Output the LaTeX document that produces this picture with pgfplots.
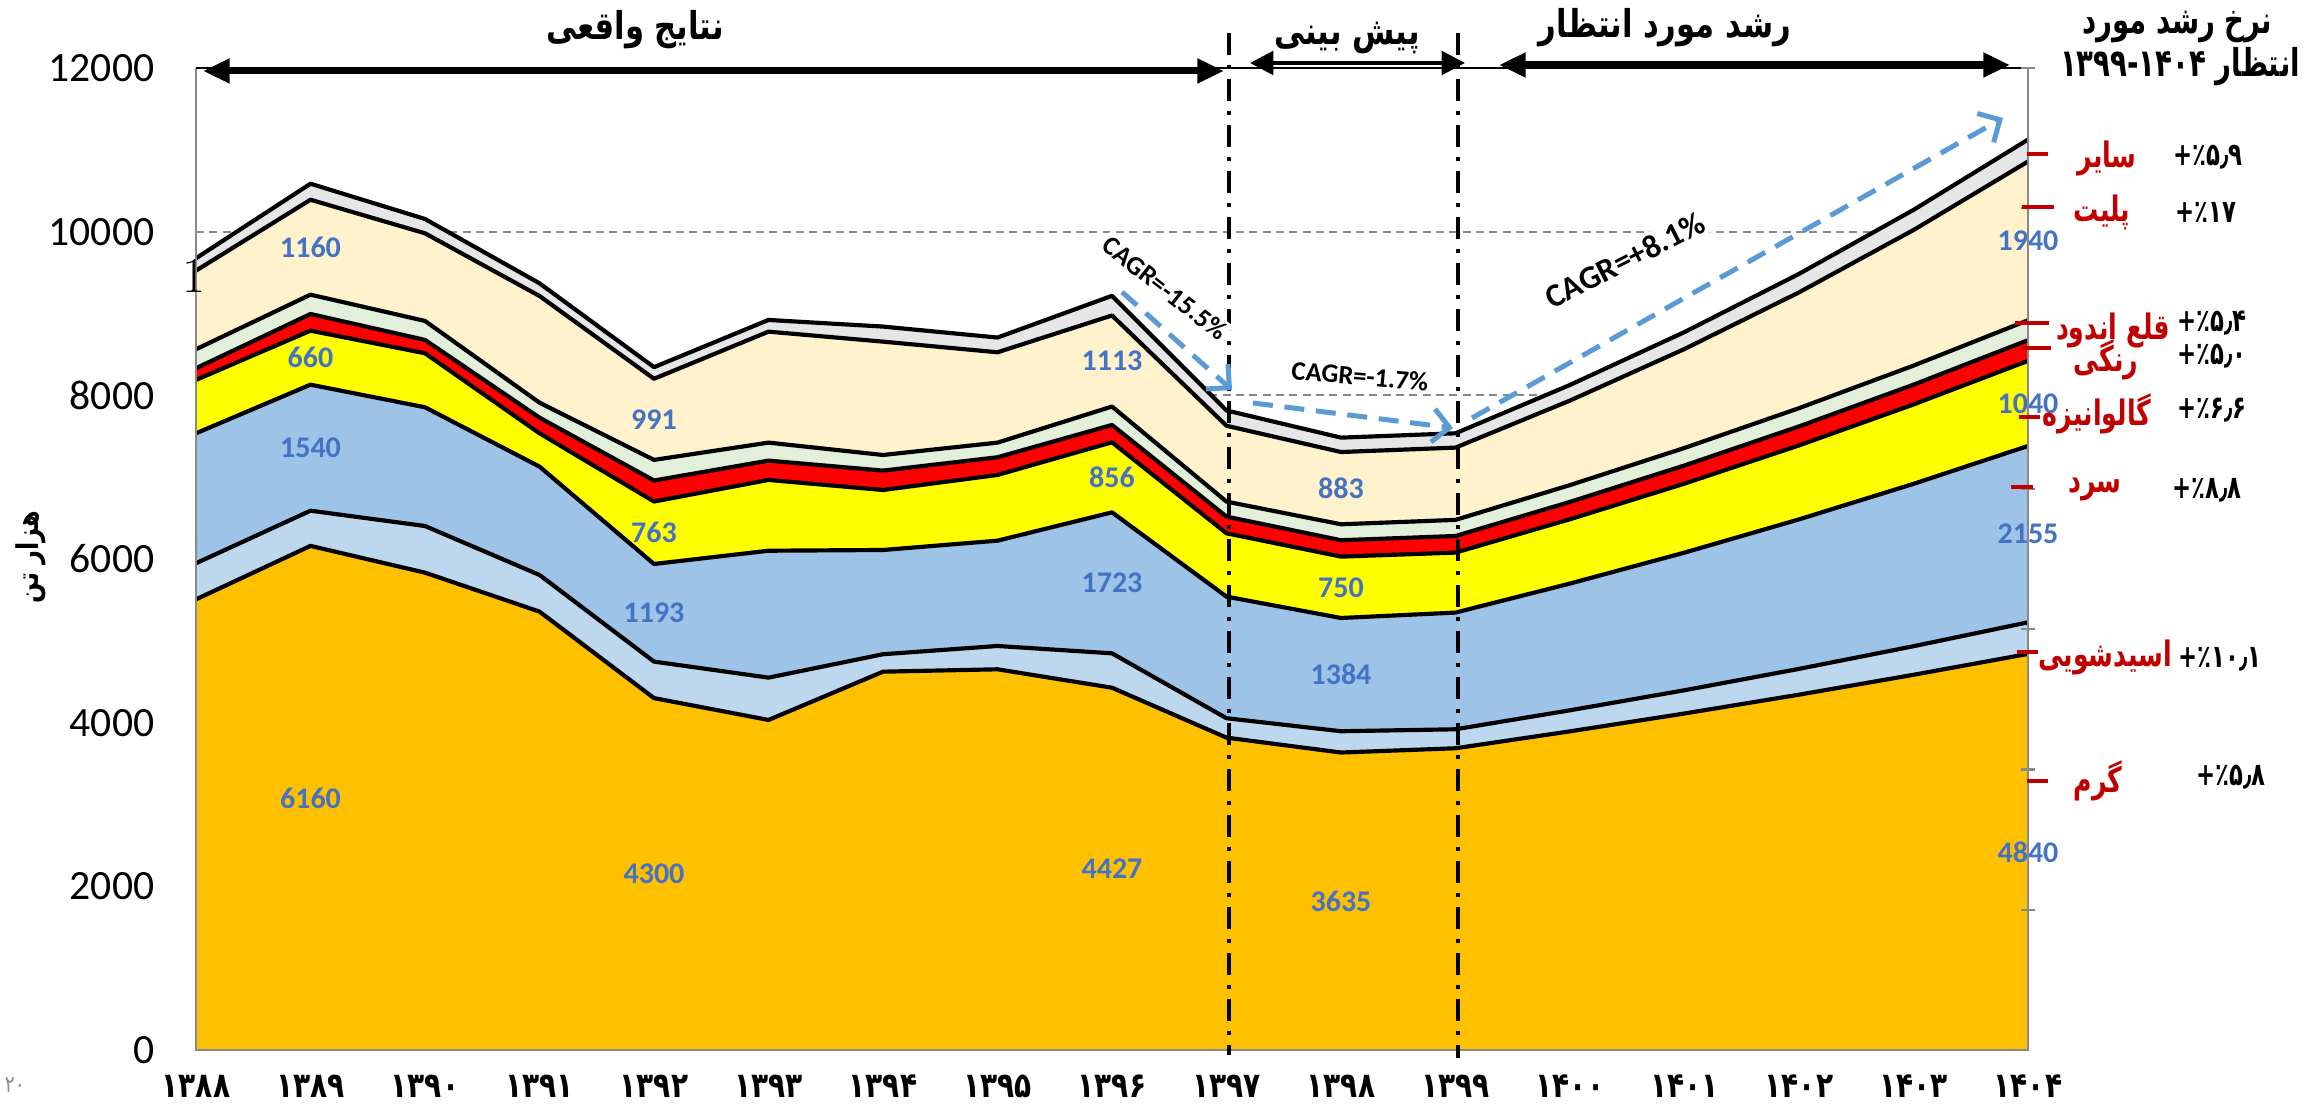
\documentclass[border=0pt]{standalone}
\usepackage{fontspec}
\usepackage{pgfplots}
\pgfplotsset{compat=1.18}
\usepackage{pgfplotstable}
\usetikzlibrary{arrows.meta}
\newfontfamily\calfont{Carlito}
\newfontfamily\fa[Script=Arabic,FakeStretch=0.8]{DejaVu Sans}
\newfontfamily\fan[Script=Arabic,FakeStretch=0.72]{DejaVu Sans}
\TeXXeTstate=1
\definecolor{cGarm}{HTML}{FFC000}
\definecolor{cAcid}{HTML}{BDD7EE}
\definecolor{cSard}{HTML}{9DC3E6}
\definecolor{cGalv}{HTML}{FFFF00}
\definecolor{cRangi}{HTML}{FF0000}
\definecolor{cQala}{HTML}{E2EFDA}
\definecolor{cPelit}{HTML}{FFF2CC}
\definecolor{cSayer}{HTML}{E7E6E6}
\definecolor{lblue}{HTML}{4472C4}
\definecolor{darrow}{HTML}{5B9BD5}
\definecolor{dred}{HTML}{C00000}
\definecolor{axgray}{HTML}{898989}
\tikzset{dlab/.style={font=\calfont\bfseries\fontsize{9}{10}\selectfont, text=lblue},
  ttl/.style={font=\fa\bfseries\fontsize{11.5}{13}\selectfont},
  rlab/.style={font=\fan\bfseries\fontsize{10.5}{12}\selectfont, text=dred},
  glab/.style={font=\fan\bfseries\fontsize{9.5}{11}\selectfont},
  rtk/.style={dred, line width=1pt}}
\pgfplotsset{bline/.style={black, line width=1.25pt, line join=round, mark=none}}

\pgfplotstableread{
x garm acid sard galv rangi qala pelit sayer
0  5507 441 1588 652 143 232 961 151
1  6160 430 1540 660 204 236 1160 196
2  5833 570 1451 660 163 232 1071 175
3  5357 448 1324 407 191 183 1304 155
4  4300 446 1193 763 257 252 991 142
5  4033 517 1551 865 236 220 1356 143
6  4623 213 1274 733 237 191 1385 184
7  4652 285 1287 803 216 179 1104 180
8  4427 420 1723 856 212 225 1113 240
9  3817 237 1486 774 204 183 927 187
10 3635 260 1384 750 200 195 883 176
11 3687 232 1426 733 203 197 883 175
12 3894 257 1549 786 212 205 1033 191
13 4112 284 1682 843 222 214 1209 207
14 4342 315 1827 904 232 223 1415 226
15 4585 349 1984 970 242 233 1657 246
16 4840 386 2155 1040 253 243 1940 268
}\datatab

\begin{document}
\begin{tikzpicture}
\begin{axis}[
  at={(58.8pt,19.2pt)}, anchor=south west,
  scale only axis, width=549.6pt, height=294.6pt,
  xmin=0, xmax=16, ymin=0, ymax=12000,
  stack plots=y,
  xtick={0,...,16},
  xticklabels={۱۳۸۸,۱۳۸۹,۱۳۹۰,۱۳۹۱,۱۳۹۲,۱۳۹۳,۱۳۹۴,۱۳۹۵,۱۳۹۶,۱۳۹۷,۱۳۹۸,۱۳۹۹,۱۴۰۰,۱۴۰۱,۱۴۰۲,۱۴۰۳,۱۴۰۴},
  ytick={0,2000,4000,6000,8000,10000,12000},
  scaled y ticks=false,
  ymajorgrids,
  grid style={axgray, line width=0.55pt, dash pattern=on 2.4pt off 1.6pt},
  axis line style={draw=none},
  major tick length=0pt,
  /pgf/number format/1000 sep={},
  /pgf/number format/assume math mode=true,
  yticklabel style={font=\calfont\fontsize{12.5}{14}\selectfont, xshift=-9pt},
  xticklabel style={font=\fa\bfseries\fontsize{10.5}{12}\selectfont, yshift=-4pt},
  clip=false,
]
\addplot[fill=cGarm, draw=none] table[x=x,y=garm]{\datatab} \closedcycle;
\addplot[fill=cAcid, draw=none] table[x=x,y=acid]{\datatab} \closedcycle;
\addplot[fill=cSard, draw=none] table[x=x,y=sard]{\datatab} \closedcycle;
\addplot[fill=cGalv, draw=none] table[x=x,y=galv]{\datatab} \closedcycle;
\addplot[fill=cRangi, draw=none] table[x=x,y=rangi]{\datatab} \closedcycle;
\addplot[fill=cQala, draw=none] table[x=x,y=qala]{\datatab} \closedcycle;
\addplot[fill=cPelit, draw=none] table[x=x,y=pelit]{\datatab} \closedcycle;
\addplot[fill=cSayer, draw=none] table[x=x,y=sayer]{\datatab} \closedcycle;
\end{axis}

\begin{axis}[
  at={(58.8pt,19.2pt)}, anchor=south west,
  scale only axis, width=549.6pt, height=294.6pt,
  xmin=0, xmax=16, ymin=0, ymax=12000,
  stack plots=y, hide axis, clip=false,
]
\addplot[bline] table[x=x,y=garm]{\datatab};
\addplot[bline] table[x=x,y=acid]{\datatab};
\addplot[bline] table[x=x,y=sard]{\datatab};
\addplot[bline] table[x=x,y=galv]{\datatab};
\addplot[bline] table[x=x,y=rangi]{\datatab};
\addplot[bline] table[x=x,y=qala]{\datatab};
\addplot[bline] table[x=x,y=pelit]{\datatab};
\addplot[bline] table[x=x,y=sayer]{\datatab};
\node[dlab] at (axis cs:1,3080) {6160};
\node[dlab] at (axis cs:1,7360) {1540};
\node[dlab] at (axis cs:1,8460) {660};
\node[dlab] at (axis cs:1,9810) {1160};
\node[dlab] at (axis cs:4,2150) {4300};
\node[dlab] at (axis cs:4,5343) {1193};
\node[dlab] at (axis cs:4,6320) {763};
\node[dlab] at (axis cs:4,7706) {991};
\node[dlab] at (axis cs:8,2213) {4427};
\node[dlab] at (axis cs:8,5708) {1723};
\node[dlab] at (axis cs:8,6998) {856};
\node[dlab] at (axis cs:8,8419) {1113};
\node[dlab] at (axis cs:10,1818) {3635};
\node[dlab] at (axis cs:10,4587) {1384};
\node[dlab] at (axis cs:10,5654) {750};
\node[dlab] at (axis cs:10,6865) {883};
\node[dlab] at (axis cs:16,2420) {4840};
\node[dlab] at (axis cs:16,6303) {2155};
\node[dlab] at (axis cs:16,7901) {1040};
\node[dlab] at (axis cs:16,9887) {1940};
\end{axis}

\begin{scope}[x=0.3pt, y=-0.3pt, shift={(0pt,334.2pt)}]
  % frame
  \draw[axgray, line width=0.75pt] (196,68) -- (196,1050) -- (2028,1050) -- (2028,68);
  \draw[black, line width=0.5pt] (196,68) -- (2028,68);
  \foreach \k in {1,...,7} { \draw[axgray, line width=0.7pt] (2021,{1050-\k*140.3}) -- (2035,{1050-\k*140.3}); }
  % dash-dot separators
  \draw[black, line width=1pt, dash pattern=on 6.6pt off 3pt on 1.2pt off 3pt] (1229,33) -- (1229,1055);
  \draw[black, line width=1pt, dash pattern=on 6.6pt off 3pt on 1.2pt off 3pt] (1458,33) -- (1458,1058);
  % CAGR labels
  \node[font=\calfont\bfseries\fontsize{8}{9}\selectfont, rotate=-38, fill=white, inner sep=0.8pt] at (1165,288) {CAGR=-15.5\%};
  \node[font=\calfont\bfseries\fontsize{8}{9}\selectfont, rotate=-5, fill=white, inner sep=0.8pt] at (1360,376) {CAGR=-1.7\%};
  \node[font=\calfont\bfseries\fontsize{9.8}{11}\selectfont, rotate=27, fill=white, inner sep=0.8pt] at (1625,260) {CAGR=+8.1\%};
  % blue dashed arrows
  \draw[darrow, line width=1.5pt, dash pattern=on 6pt off 3.5pt, -{Straight Barb[length=5pt,width=10pt]}] (1122,292) -- (1232,390);
  \draw[darrow, line width=1.5pt, dash pattern=on 6pt off 3.5pt, -{Straight Barb[length=5pt,width=10pt]}] (1253,403) -- (1453,428);
  \draw[darrow, line width=1.5pt, dash pattern=on 6pt off 3.5pt, -{Straight Barb[length=5pt,width=10pt]}] (1472,418) -- (2003,118);
  % top black arrows
  \draw[line width=2.1pt, {Triangle[length=8pt,width=7pt]}-{Triangle[length=8pt,width=7pt]}] (203,71) -- (1224,71);
  \draw[line width=1.3pt, {Triangle[length=7pt,width=7pt]}-{Triangle[length=7pt,width=7pt]}] (1250,63) -- (1465,63);
  \draw[line width=2.1pt, {Triangle[length=8pt,width=7pt]}-{Triangle[length=8pt,width=7pt]}] (1499,65) -- (2010,65);
  % titles
  \node[ttl] at (635,30) {\beginR نتایج واقعی\endR};
  \node[ttl] at (1347,38) {\beginR پیش بینی\endR};
  \node[ttl] at (1665,28) {\beginR رشد مورد انتظار\endR};
  \node[ttl, font=\fan\bfseries\fontsize{11.5}{13}\selectfont] at (2177,27) {\beginR نرخ رشد مورد\endR};
  \node[ttl, font=\fan\bfseries\fontsize{11.5}{13}\selectfont] at (2180,67) {\beginR انتظار \beginL۱۳۹۹-۱۴۰۴\endL\endR};
  % y label
  \node[rotate=90, font=\fa\bfseries\fontsize{9}{10}\selectfont] at (31,557) {\beginR هزار تن\endR};
  % odd marks
  \node[font=\fontsize{15}{16}\selectfont] at (194,276) {1};
  \node[font=\fa\fontsize{7}{8}\selectfont, text=black!45] at (15,1085) {۲۰};
  % red ticks
  \draw[rtk] (2027,154) -- (2048,154);
  \draw[rtk] (2022,207) -- (2054,207);
  \draw[rtk] (2015,323) -- (2049,323);
  \draw[rtk] (2021,348) -- (2051,348);
  \draw[rtk] (2019,417) -- (2040,417);
  \draw[rtk] (2011,487) -- (2033,487);
  \draw[rtk] (2017,652) -- (2038,652);
  \draw[rtk] (2027,781) -- (2048,781);
  % series names
  \node[rlab] at (2107,158) {سایر};
  \node[rlab] at (2102,212) {پلیت};
  \node[rlab] at (2113,330) {\beginR قلع اندود\endR};
  \node[rlab] at (2106,360) {رنگی};
  \node[rlab] at (2097,414) {گالوانیزه};
  \node[rlab] at (2095,490) {سرد};
  \node[rlab] at (2105,657) {اسیدشویی};
  \node[rlab] at (2098,781) {گرم};
  % growth rates
  \node[glab] at (2208,157) {٪۵٫۹+};
  \node[glab] at (2206,212) {٪۱۷+};
  \node[glab] at (2212,323) {٪۵٫۴+};
  \node[glab] at (2212,356) {٪۵٫۰+};
  \node[glab] at (2212,410) {٪۶٫۶+};
  \node[glab] at (2207,490) {٪۸٫۸+};
  \node[glab] at (2220,659) {٪۱۰٫۱+};
  \node[glab] at (2231,777) {٪۵٫۸+};
\end{scope}
\pgfresetboundingbox
\path[use as bounding box] (0,0) rectangle (693.9pt,334.2pt);
\end{tikzpicture}
\end{document}
